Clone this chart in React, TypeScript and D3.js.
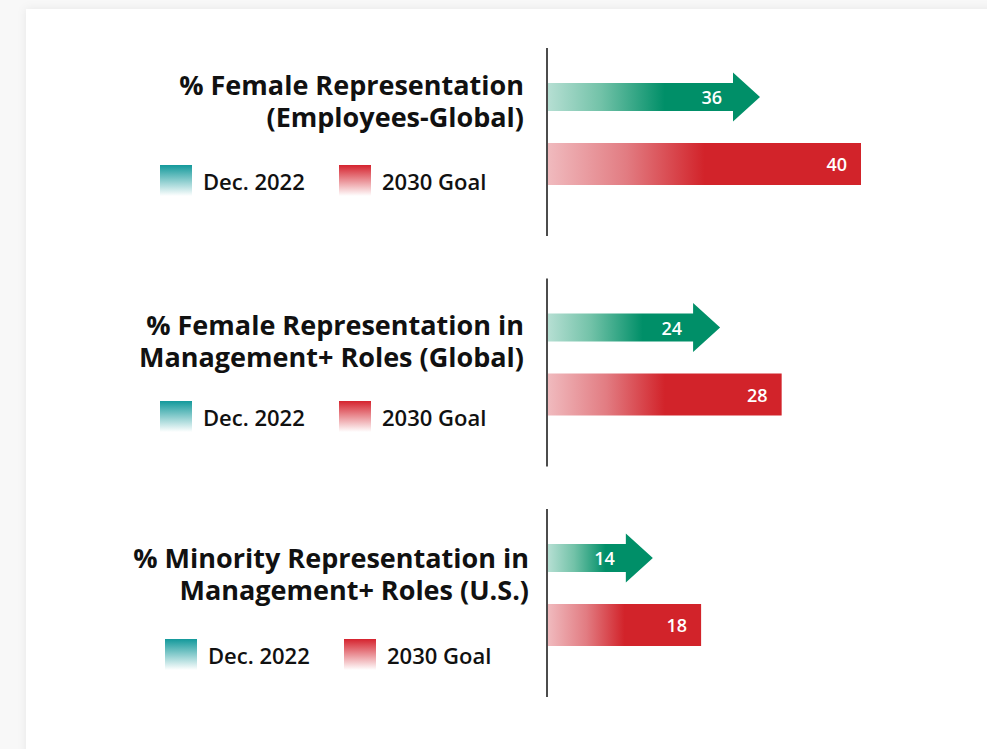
import React from 'react';
import * as d3 from 'd3';

// ---- data ----
const categories = ['femaleEmployeesGlobal', 'femaleManagementGlobal', 'minorityManagementUS'];
const titleLines: string[][] = [
  ['% Female Representation', '(Employees-Global)'],
  ['% Female Representation in', 'Management+ Roles (Global)'],
  ['% Minority Representation in', 'Management+ Roles (U.S.)'],
];
const dec2022 = [36, 24, 14];
const goal2030 = [40, 28, 18];
const legendLabels = ['Dec. 2022', '2030 Goal'];

// ---- layout ----
const W = 987;
const H = 749;
const AXIS_X = 547;
const PANEL_H = 188;
const titleCenterY = [85, 325, 558];
const legendCenterY = [181, 417, 655];
const labelShiftX = [0, 0, 5];

const FONT = "'Open Sans', 'Noto Sans', sans-serif";

export default function App() {
  const yPanel = d3.scalePoint<string>().domain(categories).range([48, 509]);
  // bar lengths in the original infographic are not proportional; these scales follow the drawn lengths
  const goalScale = d3.scaleSqrt().domain([5, 40]).range([AXIS_X, AXIS_X + 314]);
  const arrowScale = d3.scalePow().exponent(-0.5).domain([7.44, 36]).range([AXIS_X, AXIS_X + 213]);

  const HEAD_LEN = 27;
  const BODY_HALF = 14;
  const HEAD_HALF = 24.5;
  const BAR_H = 42;

  const arrowPath = (v: number, cy: number) => {
    const x0 = AXIS_X + 1;
    const tip = arrowScale(v);
    const hb = tip - HEAD_LEN;
    const p = d3.path();
    p.moveTo(x0, cy - BODY_HALF);
    p.lineTo(hb, cy - BODY_HALF);
    p.lineTo(hb, cy - HEAD_HALF);
    p.lineTo(tip, cy);
    p.lineTo(hb, cy + HEAD_HALF);
    p.lineTo(hb, cy + BODY_HALF);
    p.lineTo(x0, cy + BODY_HALF);
    p.closePath();
    return p.toString();
  };

  return (
    <svg
      width={W}
      height={H}
      style={{ position: 'absolute', left: 0, top: 0, display: 'block' }}
      fontFamily={FONT}
    >
      <defs>
        <filter id="cardShadow" x="-5%" y="-5%" width="110%" height="110%">
          <feDropShadow dx="0" dy="0" stdDeviation="5" floodColor="#000" floodOpacity="0.07" />
        </filter>
        <linearGradient id="gradGreen" x1="0" y1="0" x2="1" y2="0">
          <stop offset="0" stopColor="#b6dfd3" />
          <stop offset="0.25" stopColor="#72c2a8" />
          <stop offset="0.55" stopColor="#008f68" />
          <stop offset="1" stopColor="#008f68" />
        </linearGradient>
        <linearGradient id="gradRed" x1="0" y1="0" x2="1" y2="0">
          <stop offset="0" stopColor="#f0babe" />
          <stop offset="0.25" stopColor="#e27c82" />
          <stop offset="0.5" stopColor="#d2232a" />
          <stop offset="1" stopColor="#d2232a" />
        </linearGradient>
        <linearGradient id="swatchTeal" x1="0" y1="0" x2="0" y2="1">
          <stop offset="0" stopColor="#13999b" />
          <stop offset="1" stopColor="#ffffff" />
        </linearGradient>
        <linearGradient id="swatchRed" x1="0" y1="0" x2="0" y2="1">
          <stop offset="0" stopColor="#d5232e" />
          <stop offset="1" stopColor="#ffffff" />
        </linearGradient>
      </defs>

      <rect x={0} y={0} width={W} height={H} fill="#f8f8f8" />
      <rect x={26} y={9} width={W + 40} height={H + 40} fill="#ffffff" filter="url(#cardShadow)" />

      {categories.map((c, i) => {
        const top = yPanel(c) as number;
        const arrowCy = top + 49;
        const barCy = top + 116;
        const tip = arrowScale(dec2022[i]);
        const goalEnd = goalScale(goal2030[i]);
        const sx = labelShiftX[i];
        return (
          <g key={c}>
            {/* arrow (Dec. 2022) */}
            <path d={arrowPath(dec2022[i], arrowCy)} fill="url(#gradGreen)" />
            <text
              x={tip - HEAD_LEN - 11}
              y={arrowCy}
              textAnchor="end"
              dominantBaseline="central"
              fill="#fff"
              fontSize={18}
              fontWeight={600}
            >
              {dec2022[i]}
            </text>
            {/* bar (2030 goal) */}
            <rect
              x={AXIS_X + 1}
              y={barCy - BAR_H / 2}
              width={goalEnd - AXIS_X - 1}
              height={BAR_H}
              fill="url(#gradRed)"
            />
            <text
              x={goalEnd - 14}
              y={barCy}
              textAnchor="end"
              dominantBaseline="central"
              fill="#fff"
              fontSize={18}
              fontWeight={600}
            >
              {goal2030[i]}
            </text>
            {/* axis line */}
            <line x1={AXIS_X} x2={AXIS_X} y1={top} y2={top + PANEL_H} stroke="#111" strokeWidth={1.5} />

            {/* title */}
            <text
              textAnchor="end"
              fill="#111"
              fontSize={27}
              fontWeight={700}
            >
              {titleLines[i].map((ln, j) => (
                <tspan key={j} x={524 + sx} y={titleCenterY[i] + j * 32 + 10}>
                  {ln}
                </tspan>
              ))}
            </text>

            {/* legend */}
            <rect x={160 + sx} y={legendCenterY[i] - 16} width={32} height={31} fill="url(#swatchTeal)" />
            <text
              x={203 + sx}
              y={legendCenterY[i]}
              dominantBaseline="central"
              fill="#111"
              fontSize={22}
              fontWeight={600}
            >
              {legendLabels[0]}
            </text>
            <rect x={339 + sx} y={legendCenterY[i] - 16} width={32} height={31} fill="url(#swatchRed)" />
            <text
              x={382 + sx}
              y={legendCenterY[i]}
              dominantBaseline="central"
              fill="#111"
              fontSize={22}
              fontWeight={600}
            >
              {legendLabels[1]}
            </text>
          </g>
        );
      })}
    </svg>
  );
}
